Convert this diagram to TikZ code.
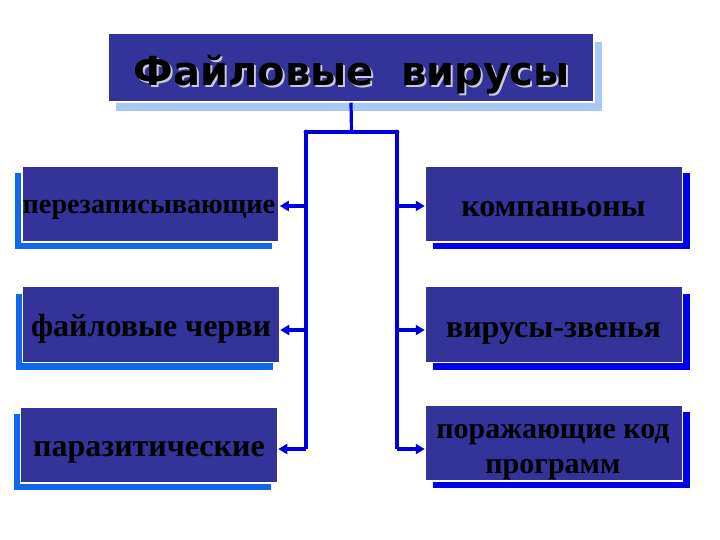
\documentclass[tikz,border=0pt]{standalone}
\usepackage{fontspec}
\setmainfont{Liberation Serif}
\newfontfamily\titlefont{DejaVu Sans}
\usetikzlibrary{arrows.meta,shadows}
\definecolor{boxfill}{HTML}{333399}
\definecolor{lineblue}{HTML}{0000DD}
\definecolor{lshadowblue}{HTML}{1166EE}
\definecolor{rshadowblue}{HTML}{0000EE}
\definecolor{titleshadow}{HTML}{A8C8F8}
\definecolor{textshade}{HTML}{C8C8D8}
\tikzset{
  vbox/.style={rectangle, fill=boxfill, draw=white, line width=1.5pt,
    minimum width=257pt, minimum height=76pt, inner sep=0pt},
  btext/.style={anchor=base, inner sep=0pt, align=center,
    font=\fontsize{32}{36}\selectfont\bfseries, text=black},
  ttext/.style={anchor=base, inner sep=0pt,
    font=\titlefont\fontsize{40}{44}\selectfont\bfseries},
  lshadow/.style={general shadow={fill=lshadowblue, shadow xshift=-7pt, shadow yshift=-7pt}},
  rshadow/.style={general shadow={fill=rshadowblue, shadow xshift=7pt, shadow yshift=-7pt}},
  conn/.style={draw=lineblue, line width=3.2pt},
  arr/.style={conn, -{Triangle[length=9pt,width=10pt]}},
}
\begin{document}
\begin{tikzpicture}[x=1pt,y=-1pt]
\useasboundingbox (0,0) rectangle (720,540);
% title
\node[vbox, minimum width=486pt, minimum height=69pt,
  general shadow={fill=titleshadow, shadow xshift=8pt, shadow yshift=-9pt}]
  (title) at (351,67.5) {};
\node[ttext, text=textshade] (titleshade) at (353.5,88) {Файловые\ \ вирусы};
\node[ttext, text=black] (titletext) at (351.5,86) {Файловые\ \ вирусы};
% left boxes
\node[vbox, lshadow] (l1) at (150.5,204) {};
\node[vbox, lshadow] (l2) at (151,324.5) {};
\node[vbox, lshadow] (l3) at (149,445) {};
\node[btext, font=\fontsize{28.2}{30}\selectfont\bfseries] (l1t) at (149,214) {перезаписывающие};
\node[btext] (l2t) at (151,336) {файловые черви};
\node[btext] (l3t) at (149,456.5) {паразитические};
% right boxes
\node[vbox, rshadow] (r1) at (554,204) {};
\node[vbox, rshadow] (r2) at (554,324.5) {};
\node[vbox, rshadow] (r3) at (554,443) {};
\node[btext] (r1t) at (553.5,216) {компаньоны};
\node[btext] (r2t) at (553.5,337) {вирусы-звенья};
\node[btext, font=\fontsize{30}{35}\selectfont\bfseries] (r3t) at (553,473) {поражающие код\\программ};
% connectors
\coordinate (top) at (351.5,132);
\coordinate (jl0) at (306,132);
\coordinate (jr0) at (397,132);
\coordinate (jl1) at (306,206);
\coordinate (jl2) at (306,330);
\coordinate (jl3) at (306,449);
\coordinate (jr1) at (397,206);
\coordinate (jr2) at (397,330);
\coordinate (jr3) at (397,449);
\draw[conn] (title.south) -- (top);
\draw[conn] (jl0) -- (jr0);
\draw[conn] (jl0) -- (jl3);
\draw[conn] (jr0) -- (jr3);
\fill[lineblue] (jl0) circle (2.4pt) (jr0) circle (2.4pt);
\draw[arr] (jl1) -- (l1.east |- jl1);
\draw[arr] (jl2) -- (l2.east |- jl2);
\draw[arr] (jl3) -- (l3.east |- jl3);
\draw[arr] (jr1) -- (r1.west |- jr1);
\draw[arr] (jr2) -- (r2.west |- jr2);
\draw[arr] (jr3) -- (r3.west |- jr3);
\end{tikzpicture}
\end{document}
